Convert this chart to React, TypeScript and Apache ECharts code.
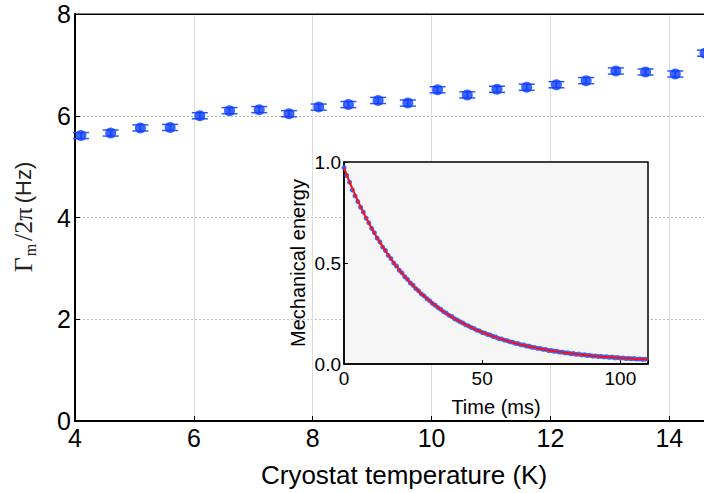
import React, { useEffect, useRef } from "react";
import * as echarts from "echarts";

// Main panel: damping rate vs cryostat temperature
const temperatureK = [4.1, 4.6, 5.1, 5.6, 6.1, 6.6, 7.1, 7.6, 8.1, 8.6, 9.1, 9.6, 10.1, 10.6, 11.1, 11.6, 12.1, 12.6, 13.1, 13.6, 14.1, 14.6];
const dampingHz = [5.61, 5.66, 5.76, 5.77, 6.0, 6.1, 6.12, 6.04, 6.17, 6.22, 6.3, 6.25, 6.51, 6.41, 6.52, 6.56, 6.61, 6.69, 6.88, 6.86, 6.82, 7.23];
const dampingErr = [0.06, 0.06, 0.06, 0.06, 0.06, 0.06, 0.06, 0.06, 0.06, 0.06, 0.06, 0.06, 0.06, 0.06, 0.06, 0.06, 0.06, 0.06, 0.06, 0.06, 0.06, 0.06];

// Inset: ringdown of mechanical energy
const decayTimeMs = [
  0, 1, 2, 3, 4, 5, 6, 7, 8, 9, 10, 11, 12, 13, 14, 15, 16, 17, 18, 19,
  20, 21, 22, 23, 24, 25, 26, 27, 28, 29, 30, 31, 32, 33, 34, 35, 36, 37, 38, 39,
  40, 41, 42, 43, 44, 45, 46, 47, 48, 49, 50, 51, 52, 53, 54, 55, 56, 57, 58, 59,
  60, 61, 62, 63, 64, 65, 66, 67, 68, 69, 70, 71, 72, 73, 74, 75, 76, 77, 78, 79,
  80, 81, 82, 83, 84, 85, 86, 87, 88, 89, 90, 91, 92, 93, 94, 95, 96, 97, 98, 99,
  100, 101, 102, 103, 104, 105, 106, 107, 108, 109,
];
const decayEnergy = [
  0.972, 0.933, 0.9, 0.862, 0.832, 0.804, 0.776, 0.752, 0.722, 0.699,
  0.671, 0.65, 0.623, 0.604, 0.579, 0.562, 0.538, 0.522, 0.5, 0.485,
  0.464, 0.451, 0.432, 0.419, 0.401, 0.39, 0.373, 0.362, 0.347, 0.337,
  0.323, 0.313, 0.3, 0.291, 0.279, 0.271, 0.259, 0.252, 0.241, 0.235,
  0.224, 0.218, 0.209, 0.203, 0.194, 0.189, 0.181, 0.176, 0.168, 0.164,
  0.156, 0.153, 0.146, 0.143, 0.136, 0.133, 0.126, 0.124, 0.118, 0.116,
  0.11, 0.108, 0.102, 0.101, 0.095, 0.094, 0.089, 0.088, 0.083, 0.082,
  0.077, 0.077, 0.072, 0.072, 0.067, 0.067, 0.063, 0.063, 0.059, 0.059,
  0.055, 0.055, 0.051, 0.052, 0.048, 0.049, 0.045, 0.046, 0.042, 0.043,
  0.039, 0.04, 0.037, 0.038, 0.035, 0.036, 0.033, 0.034, 0.031, 0.032,
  0.029, 0.03, 0.027, 0.028, 0.026, 0.027, 0.024, 0.025, 0.023, 0.024,
];
const fitTimeMs = [0, 2, 4, 6, 8, 10, 12, 14, 16, 18, 20, 22, 24, 26, 28, 30, 32, 34, 36, 38, 40, 42, 44, 46, 48, 50, 52, 54, 56, 58, 60, 62, 64, 66, 68, 70, 72, 74, 76, 78, 80, 82, 84, 86, 88, 90, 92, 94, 96, 98, 100, 102, 104, 106, 108, 110];
const fitEnergy = [0.971, 0.902, 0.838, 0.779, 0.724, 0.672, 0.625, 0.581, 0.54, 0.501, 0.466, 0.433, 0.403, 0.374, 0.348, 0.324, 0.301, 0.28, 0.26, 0.242, 0.225, 0.21, 0.195, 0.182, 0.169, 0.157, 0.147, 0.137, 0.127, 0.119, 0.111, 0.103, 0.096, 0.09, 0.084, 0.078, 0.073, 0.068, 0.064, 0.06, 0.056, 0.052, 0.049, 0.046, 0.043, 0.04, 0.038, 0.036, 0.034, 0.032, 0.03, 0.028, 0.027, 0.025, 0.024, 0.022];

const SANS = "Liberation Sans, Arial, sans-serif";
const SERIF = "Liberation Serif, DejaVu Serif, serif";

export default function App() {
  const ref = useRef<HTMLDivElement>(null);
  useEffect(() => {
    const chart = echarts.init(ref.current!, null, { renderer: "svg" });
    const errData = temperatureK.map((t, i) => [t, dampingHz[i], dampingErr[i]]);
    const ptData = temperatureK.map((t, i) => [t, dampingHz[i]]);
    const dots = decayTimeMs.map((t, i) => [t, decayEnergy[i]]);
    const fit = fitTimeMs.map((t, i) => [t, fitEnergy[i]]);
    chart.setOption({
      animation: false,
      backgroundColor: "#ffffff",
      grid: [
        { left: 75, top: 14, width: 630, height: 408, show: true, borderColor: "#000", borderWidth: 1.2, backgroundColor: "#fff" },
        { left: 344, top: 162, width: 304, height: 202, show: true, borderColor: "#000", borderWidth: 1.5, backgroundColor: "#f6f6f6", z: 3 },
      ],
      xAxis: [
        {
          gridIndex: 0, type: "value", min: 4, max: 14.6, interval: 2,
          name: "Cryostat temperature (K)", nameLocation: "middle", nameGap: 41,
          nameTextStyle: { fontSize: 26, color: "#000", fontFamily: SANS, padding: [0, 0, 0, 28] },
          axisLine: { lineStyle: { color: "#000", width: 2 } },
          axisTick: { inside: true, length: 5, lineStyle: { color: "#000" } },
          axisLabel: { fontSize: 25, color: "#000", fontFamily: SANS, margin: 4, formatter: (v: number) => (Number.isInteger(v) ? String(v) : "") },
          splitLine: { show: true, lineStyle: { color: "#dcdcdc", width: 1, type: "solid" } },
        },
        {
          gridIndex: 1, type: "value", min: 0, max: 110, interval: 50, z: 4,
          name: "Time (ms)", nameLocation: "middle", nameGap: 33,
          nameTextStyle: { fontSize: 20, color: "#000", fontFamily: SANS },
          axisLine: { lineStyle: { color: "#000", width: 1.5 } },
          axisTick: { inside: true, length: 4, lineStyle: { color: "#000" } },
          axisLabel: { fontSize: 19, color: "#000", fontFamily: SANS, margin: 5, formatter: (v: number) => (v % 50 === 0 ? String(v) : "") },
          splitLine: { show: false },
        },
        {
          gridIndex: 0, type: "value", min: 4, max: 14.6, position: "top", z: 2,
          axisLine: { show: true, lineStyle: { color: "#000", width: 1.2 } },
          axisTick: { show: false }, axisLabel: { show: false }, splitLine: { show: false },
        },
      ],
      yAxis: [
        {
          gridIndex: 0, type: "value", min: 0, max: 8, interval: 2,
          name: "{g|Γ}{s|m}{g|/2π} {h|(Hz)}", nameLocation: "middle", nameGap: 37,
          nameTextStyle: {
            color: "#222",
            rich: {
              g: { fontSize: 26, fontFamily: SERIF, color: "#222", lineHeight: 30, padding: [0, 1, 0, 1] },
              s: { fontSize: 16, fontFamily: SERIF, color: "#222", verticalAlign: "bottom", lineHeight: 18, padding: [12, 2, 0, 0] },
              h: { fontSize: 22, fontFamily: SANS, color: "#222", lineHeight: 30 },
            },
          },
          axisLine: { lineStyle: { color: "#000", width: 2 } },
          axisTick: { inside: true, length: 5, lineStyle: { color: "#000" } },
          axisLabel: { fontSize: 25, color: "#000", fontFamily: SANS, margin: 4 },
          splitLine: { show: true, lineStyle: { color: "#bbbbbb", width: 1, type: [2, 2] } },
        },
        {
          gridIndex: 1, type: "value", min: 0, max: 1, interval: 0.5, z: 4,
          name: "Mechanical energy", nameLocation: "middle", nameGap: 36,
          nameTextStyle: { fontSize: 20, color: "#000", fontFamily: SANS },
          axisLine: { lineStyle: { color: "#000", width: 1.5 } },
          axisTick: { inside: true, length: 4, lineStyle: { color: "#000" } },
          axisLabel: { fontSize: 19, color: "#000", fontFamily: SANS, margin: 3, formatter: (v: number) => v.toFixed(1) },
          splitLine: { show: false },
        },
      ],
      series: [
        {
          type: "custom", xAxisIndex: 0, yAxisIndex: 0, z: 3,
          data: errData,
          renderItem: (params: any, api: any) => {
            const x = api.value(0), y = api.value(1), e = api.value(2);
            const c = api.coord([x, y]);
            const hi = api.coord([x, y + e]);
            const lo = api.coord([x, y - e]);
            const hw = 8;
            const st = { stroke: "#2a58ff", lineWidth: 1.5 };
            return {
              type: "group",
              children: [
                { type: "line", shape: { x1: c[0], y1: hi[1], x2: c[0], y2: lo[1] }, style: st },
                { type: "line", shape: { x1: c[0] - hw, y1: hi[1], x2: c[0] + hw, y2: hi[1] }, style: st },
                { type: "line", shape: { x1: c[0] - hw, y1: lo[1], x2: c[0] + hw, y2: lo[1] }, style: st },
              ],
            };
          },
        },
        {
          type: "scatter", xAxisIndex: 0, yAxisIndex: 0, z: 4,
          data: ptData, symbol: "circle", symbolSize: 11,
          itemStyle: { color: "#0a3cff" },
        },
        {
          type: "scatter", xAxisIndex: 1, yAxisIndex: 1, z: 5,
          data: dots, symbol: "circle", symbolSize: 5,
          itemStyle: { color: "#2a5cff", opacity: 0.9 },
        },
        {
          type: "line", xAxisIndex: 1, yAxisIndex: 1, z: 6,
          data: fit, showSymbol: false, smooth: true,
          lineStyle: { color: "#ff1010", width: 2 },
        },
      ],
    });
    return () => chart.dispose();
  }, []);
  return (
    <div style={{ position: "fixed", left: 0, top: 0, width: 704, height: 493, overflow: "hidden" }}>
      <div ref={ref} style={{ width: 730, height: 493 }} />
    </div>
  );
}
